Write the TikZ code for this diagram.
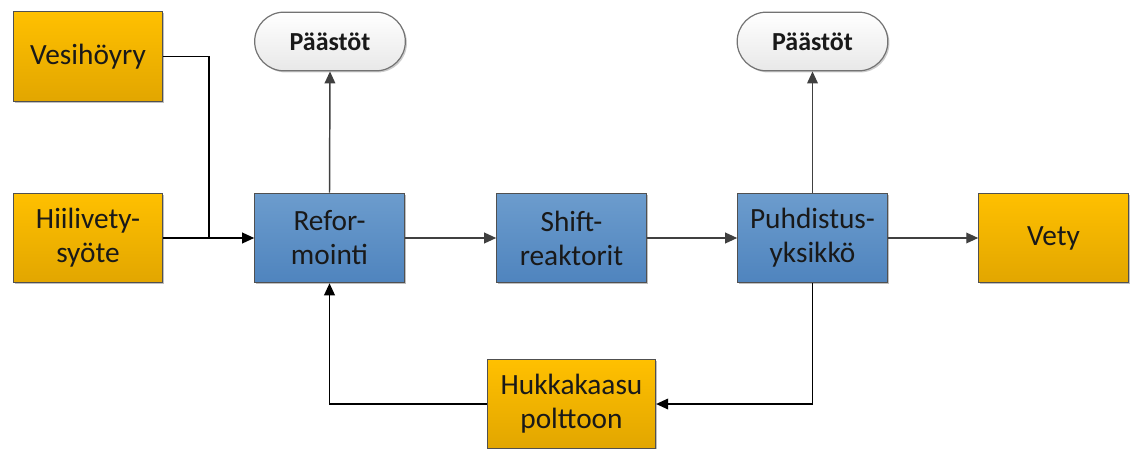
\documentclass[tikz,border=0pt]{standalone}
\usepackage{fontspec}
\setmainfont{Carlito}
\usetikzlibrary{arrows.meta,shadows}
\definecolor{orangetop}{HTML}{FFC000}
\definecolor{orangebot}{HTML}{E2A600}
\definecolor{bluetop}{HTML}{6C9CCD}
\definecolor{bluebot}{HTML}{4F84BE}
\definecolor{edgegray}{HTML}{505050}
\definecolor{linegray}{HTML}{404040}
\begin{document}
\begin{tikzpicture}[x=0.75pt,y=-0.75pt,
  box/.style={draw=edgegray, line width=0.9pt, minimum width=112pt, minimum height=67pt,
    inner sep=2pt, align=center, font=\fontsize{22}{25.5}\selectfont, text=black!90,
    drop shadow={shadow xshift=1.2pt, shadow yshift=-1.2pt, opacity=0.25, fill=black}},
  feed/.style={box, top color=orangetop, bottom color=orangebot},
  unit/.style={box, top color=bluetop, bottom color=bluebot},
  exhaust/.style={draw=edgegray!80, line width=0.9pt, minimum width=113pt, minimum height=44pt,
    rounded corners=22pt, top color=white, bottom color=black!9,
    font=\fontsize{19.5}{22}\selectfont\bfseries, text=black!90,
    drop shadow={shadow xshift=1.2pt, shadow yshift=-1.2pt, opacity=0.2, fill=black}},
  flow/.style={draw=linegray, line width=1.1pt, -{Triangle[length=9pt,width=8pt]}},
  feedline/.style={draw=black, line width=1.1pt},
  feedarrow/.style={feedline, -{Triangle[length=9pt,width=8pt]}}
]
\useasboundingbox (0,0) rectangle (1130,449);

% raw material and product boxes
\node[feed] (ves) at (88,56.5) {Vesihöyry};
\node[feed] (hii) at (88,238) {Hiilivety-\\syöte};
\node[feed] (vet) at (1053.5,238) {Vety};
\node[feed, minimum width=126pt] (huk) at (571.5,404) {Hukkakaasu\\polttoon};

% process units
\node[unit] (ref) at (329.5,238) {Refor-\\mointi};
\node[unit] (shi) at (571.5,238) {Shift-\\reaktorit};
\node[unit] (puh) at (812.5,238) {Puhdistus-\\yksikkö};

% emissions
\node[exhaust] (pa1) at (330,41.5) {Päästöt};
\node[exhaust] (pa2) at (812.5,41.5) {Päästöt};

% junction points
\coordinate (j1) at (209,238);
\coordinate (c1) at (812.5,404);
\coordinate (c2) at (329.5,404);

% feeds into the reformer
\draw[feedline] (ves.east) -| (j1);
\draw[feedarrow] (hii.east) -- (ref.west);

% main process chain
\draw[flow] (ref.east) -- (shi.west);
\draw[flow] (shi.east) -- (puh.west);
\draw[flow] (puh.east) -- (vet.west);
\draw[flow] (ref.north) -- (pa1.south);
\draw[flow] (puh.north) -- (pa2.south);

% off-gas loop
\draw[feedarrow] (puh.south) -- (c1) -- (huk.east);
\draw[feedarrow] (huk.west) -- (c2) -- (ref.south);
\end{tikzpicture}
\end{document}
